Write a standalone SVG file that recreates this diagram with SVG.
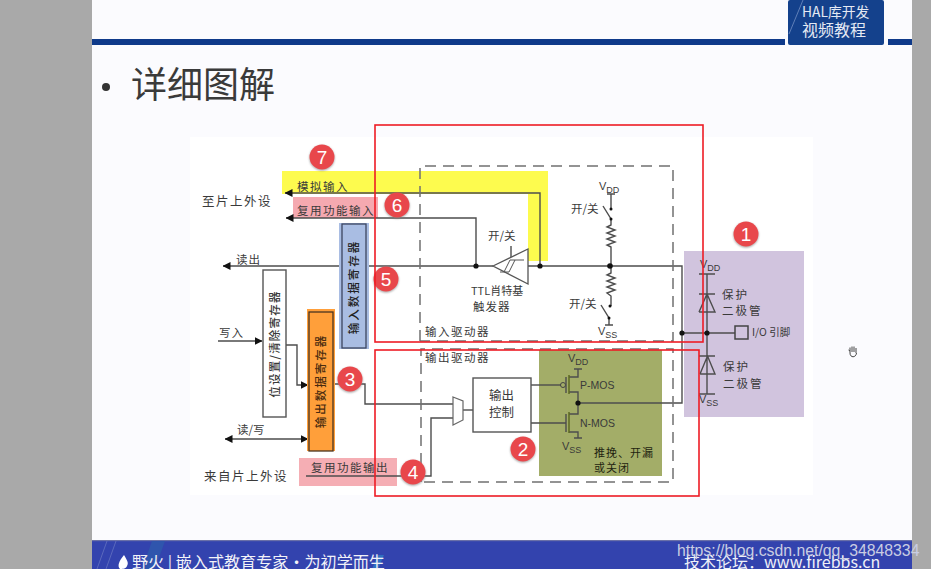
<svg xmlns="http://www.w3.org/2000/svg" width="931" height="569" viewBox="0 0 931 569">
<style>
text{font-family:"Noto Sans CJK SC","Liberation Sans",sans-serif;fill:#3a3a3a;font-size:11.5px}
.en{font-family:"Liberation Sans",sans-serif;font-size:11px}
.w{fill:none;stroke:#4d4d4d;stroke-width:1.4}
.dash{fill:none;stroke:#707070;stroke-width:1.5;stroke-dasharray:11 7}
.red{fill:none;stroke:#ee1c25;stroke-width:1.6}
.box{fill:#fff;stroke:#555;stroke-width:1.4}
.dot{fill:#111}
.badge{fill:#e8474c;filter:url(#sh)}
.num{fill:#fff;font-family:"Liberation Sans",sans-serif;font-size:19px;text-anchor:middle}
.head{fill:#111}
</style>
<defs>
<filter id="sh" x="-30%" y="-30%" width="160%" height="160%"><feDropShadow dx="0" dy="1" stdDeviation="1" flood-color="#777" flood-opacity="0.7"/></filter>
<marker id="ah" viewBox="0 0 8 8" refX="7.5" refY="4" markerWidth="8" markerHeight="8" orient="auto-start-reverse" markerUnits="userSpaceOnUse"><path d="M0 0L8 4L0 8Z" class="head"/></marker>
</defs>

<g id="slide">
<rect width="931" height="569" fill="#a9a9a9"/>
<rect x="92" y="0" width="820" height="569" fill="#fbfbfe"/>
<rect x="92" y="39" width="693" height="6" fill="#0f3a8a"/>
<rect x="888" y="39" width="24" height="6" fill="#0f3a8a"/>
<rect x="788" y="0" width="96" height="45" rx="2" fill="#14418c"/>
<path d="M789 34L803 0" stroke="#5f7fb8" stroke-width="1" fill="none"/>
<text x="802" y="17" style="font-size:13.800px;fill:#e4e9f3">HAL库开发</text>
<text x="802" y="36" style="font-size:16px;fill:#e4e9f3">视频教程</text>
<circle cx="106" cy="87" r="4" fill="#333"/>
<text x="131" y="98" style="font-size:36px;fill:#3a3a3a">详细图解</text>
<rect x="92" y="541" width="820" height="28" fill="#3343ae"/>
<rect x="92" y="540" width="820" height="1.2" fill="#6a70a8"/>
<path d="M142 569L152 541H165L155 569Z" fill="#2f55ad"/>
<path d="M372 569L378 555H384L378 569Z" fill="#2f6fc0"/>
<path d="M97 569L107 541M106 569L116 541" stroke="#6472c0" stroke-width="0.8" fill="none"/>
<path d="M124 555C127 560 129 563 127 566C126 569 122 569 120 569C117 566 119 561 124 555Z" fill="#fff"/>
<text x="132" y="568" style="font-size:16.100px;fill:#f2f2f8">野火 | 嵌入式教育专家・为初学而生</text>
<text x="684" y="568" style="font-size:16px;fill:#eef0f8">技术论坛：www.firebbs.cn</text>
<text x="677" y="556" style="font-family:'Liberation Sans',sans-serif;font-size:15.800px;fill:#c9cde2">https://blog.csdn.net/qq_34848334</text>
<path d="M850 353V347.500M852 352V346.500M854 352V346.500M856 353V348M850 351L848.500 350M850 353C850 358 856 358 856.500 353" fill="none" stroke="#444" stroke-width="1"/>
</g>

<g id="figure-bg">
<rect x="190" y="137" width="623" height="358" fill="#fff"/>
<rect x="282" y="171" width="266" height="23" fill="#fdfb4e"/>
<rect x="528" y="171" width="20" height="90" fill="#fdfb4e"/>
<rect x="293" y="197" width="85" height="21" fill="#f5a9b0"/>
<rect x="299" y="458" width="98" height="28" fill="#f5aeb4"/>
<rect x="684" y="251" width="120" height="166" fill="#d1c4de"/>
<rect x="539" y="350" width="123" height="126" fill="#a3ad68"/>
</g>

<g id="connectors">
<path class="w" d="M285 193H540V266" marker-start="url(#ah)"/>
<path class="w" d="M286 218H476V266" marker-start="url(#ah)"/>
<path class="w" d="M223 266H342" marker-start="url(#ah)"/>
<path class="w" d="M366 266H493"/>
<path class="w" d="M528 266H682V403H578"/>
<path class="w" d="M682 333H735"/>
<path class="w" d="M218 341H262" marker-end="url(#ah)"/>
<path class="w" d="M286 345H297V385H308" marker-end="url(#ah)"/>
<path class="w" d="M225 439H308" marker-start="url(#ah)" marker-end="url(#ah)"/>
<path class="w" d="M333 384H365V404H453"/>
<path class="w" d="M306 476H431V418H453"/>
<path class="w" d="M463 410H473"/>
<path class="w" d="M511 246V258"/>
<path class="w" d="M531 385H561"/>
<path class="w" d="M531 423H566"/>
</g>

<g id="driver-frames">
<path class="dash" d="M420 341V166H673V341H420"/>
<path class="dash" d="M421 482V349H673V482H421"/>
</g>

<g id="schmitt-trigger">
<path d="M493 266L528 249V284Z" fill="#fff" stroke="#555" stroke-width="1.300"/>
<path d="M500 272H509L515 260H524M504 272L510 260H515" fill="none" stroke="#555" stroke-width="1"/>
<circle class="dot" cx="476" cy="266" r="2.600"/>
<circle class="dot" cx="540" cy="266" r="2.600"/>
<text x="488" y="240">开/关</text>
<text x="471" y="295" style="font-size:11px">TTL肖特基</text>
<text x="473" y="311" style="letter-spacing:1px">触发器</text>
</g>

<g id="pull-network">
<path class="w" d="M607 194H615M611 194V209"/>
<path class="w" d="M603 206L611 219V225L607 227L615 230L607 233L615 236L607 239L615 242L607 245L611 247V273L607 275L615 278L607 281L615 284L607 287L615 290L607 293L611 296V306M601 305L609 318V325M605 325H613"/>
<circle class="dot" cx="611" cy="209" r="1.500"/><circle class="dot" cx="611" cy="219" r="1.500"/>
<circle class="dot" cx="610" cy="306" r="1.500"/><circle class="dot" cx="609" cy="318" r="1.500"/>
<circle class="dot" cx="610" cy="266" r="2.800"/>
<text x="571" y="213">开/关</text>
<text x="569" y="308">开/关</text>
<text class="en" x="599" y="190">V<tspan dy="3" font-size="9">DD</tspan></text>
<text class="en" x="598" y="335">V<tspan dy="3" font-size="9">SS</tspan></text>
</g>

<g id="protection">
<path class="w" d="M707 274V394M699 274H715M699 294H715M699 312H715L707 294L699 312M699 356H715M700 374H715L707.500 356L700 374M699 394H715"/>
<circle class="dot" cx="682" cy="333" r="2.600"/>
<circle class="dot" cx="707" cy="333" r="2.600"/>
<rect x="735" y="326" width="13" height="13" fill="none" stroke="#444" stroke-width="1.500"/>
<text class="en" x="700" y="268">V<tspan dy="3" font-size="9">DD</tspan></text>
<text class="en" x="699" y="403">V<tspan dy="3" font-size="9">SS</tspan></text>
<text x="722" y="299" style="letter-spacing:2px">保护</text>
<text x="722" y="315" style="letter-spacing:2px">二极管</text>
<text x="723" y="371" style="letter-spacing:2px">保护</text>
<text x="723" y="388" style="letter-spacing:2px">二极管</text>
<text x="752" y="336" style="font-size:10.500px">I/O 引脚</text>
</g>

<g id="registers">
<rect class="box" x="263" y="270" width="23" height="147"/>
<rect x="339" y="223" width="30" height="126" fill="#a9bde3"/>
<rect x="342" y="224" width="24" height="124" fill="#a9bde3" stroke="#3c4660" stroke-width="1.300"/>
<rect x="307" y="309" width="28" height="142" fill="#ff9f3a"/>
<rect x="309" y="312" width="24" height="139" fill="#ff9f3a" stroke="#4a3520" stroke-width="1.300"/>
<text transform="translate(278.500 344) rotate(-90)" text-anchor="middle" style="letter-spacing:1.200px;font-weight:500">位设置/清除寄存器</text>
<text transform="translate(358 287) rotate(-90)" text-anchor="middle" style="letter-spacing:2px;fill:#222;font-weight:500">输入数据寄存器</text>
<text transform="translate(325 381) rotate(-90)" text-anchor="middle" style="letter-spacing:2px;fill:#4a2c10;font-weight:500">输出数据寄存器</text>
</g>

<g id="mos-stage">
<path d="M453 397L463 401V420L453 425Z" fill="#fff" stroke="#666" stroke-width="1.200"/>
<rect class="box" x="473" y="378" width="58" height="54"/>
<text x="489" y="400" style="font-size:12.500px">输出</text>
<text x="489" y="417" style="font-size:12.500px">控制</text>
<circle cx="563" cy="385" r="2.500" fill="none" stroke="#444"/>
<path class="w" d="M574 369H582M578 369V377H569M569 392H578V414H569M569 432H578V438M574 438H582M566 377V393M566 414V432"/>
<path d="M569 375V394M569 412V433" stroke="#5d6a20" stroke-width="1.500" fill="none"/>
<circle class="dot" cx="578" cy="403" r="2.600"/>
<text class="en" x="568" y="362">V<tspan dy="3" font-size="9">DD</tspan></text>
<text class="en" x="562" y="450">V<tspan dy="3" font-size="9">SS</tspan></text>
<text class="en" x="580" y="389" style="font-size:10.500px">P-MOS</text>
<text class="en" x="580" y="427" style="font-size:10.500px">N-MOS</text>
<text x="594" y="457" style="font-size:11px;letter-spacing:1px;fill:#1f2410">推挽、开漏</text>
<text x="594" y="472" style="font-size:11px;letter-spacing:1px;fill:#1f2410">或关闭</text>
</g>

<g id="labels">
<text x="202" y="206" style="font-size:12.500px;letter-spacing:1.500px">至片上外设</text>
<text x="204" y="481" style="font-size:12.500px;letter-spacing:1.500px">来自片上外设</text>
<text x="297" y="191" style="letter-spacing:1.500px">模拟输入</text>
<text x="297" y="215" style="letter-spacing:1.500px">复用功能输入</text>
<text x="311" y="472" style="letter-spacing:1.500px">复用功能输出</text>
<text x="236" y="264" style="letter-spacing:1px">读出</text>
<text x="219" y="337" style="letter-spacing:1px">写入</text>
<text x="237" y="434">读/写</text>
<text x="425" y="336" style="letter-spacing:1.500px">输入驱动器</text>
<text x="425" y="362" style="letter-spacing:1.500px">输出驱动器</text>
</g>

<g id="callouts">
<g id="callout-1"><circle class="badge" cx="746" cy="234" r="12.500"/><text class="num" x="746" y="241">1</text></g>
<g id="callout-2"><circle class="badge" cx="523" cy="449" r="12.500"/><text class="num" x="523" y="456">2</text></g>
<g id="callout-3"><circle class="badge" cx="350" cy="379" r="12.500"/><text class="num" x="350" y="386">3</text></g>
<g id="callout-4"><circle class="badge" cx="413" cy="472" r="12.500"/><text class="num" x="413" y="479">4</text></g>
<g id="callout-5"><circle class="badge" cx="386" cy="279" r="12.500"/><text class="num" x="386" y="286">5</text></g>
<g id="callout-6"><circle class="badge" cx="397" cy="205" r="12.500"/><text class="num" x="397" y="212">6</text></g>
<g id="callout-7"><circle class="badge" cx="322" cy="157" r="12.500"/><text class="num" x="322" y="164">7</text></g>
</g>

<g id="highlight-frames">
<rect class="red" x="375" y="125" width="328" height="217"/>
<rect class="red" x="375" y="350" width="324" height="146"/>
</g>
</svg>
